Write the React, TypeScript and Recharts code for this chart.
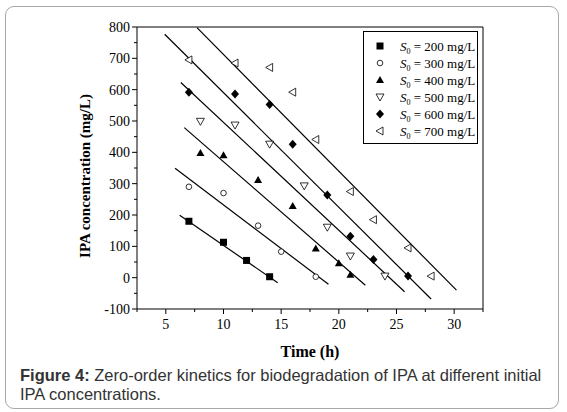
import React from "react";
import { ScatterChart, Scatter, XAxis, YAxis, ReferenceLine, Legend } from "recharts";

// Measured points: time (h) and IPA concentration (mg/L), one pair of arrays per initial concentration
const time200 = [7, 10, 12, 14];
const conc200 = [180, 113, 55, 3];
const time300 = [7, 10, 13, 15, 18];
const conc300 = [290, 270, 166, 83, 3];
const time400 = [8, 10, 13, 16, 18, 20, 21];
const conc400 = [398, 391, 312, 229, 93, 46, 9];
const time500 = [8, 11, 14, 17, 19, 21, 24];
const conc500 = [499, 487, 426, 293, 161, 69, 5];
const time600 = [7, 11, 14, 16, 19, 21, 23, 26];
const conc600 = [592, 586, 553, 426, 264, 132, 58, 5];
const time700 = [7, 11, 14, 16, 18, 21, 23, 26, 28];
const conc700 = [695, 685, 671, 592, 441, 275, 185, 95, 5];

const fitTime200 = [6.2, 14.7];
const fitConc200 = [199, -16];
const fitTime300 = [5.8, 19.1];
const fitConc300 = [349, -21];
const fitTime400 = [6.6, 22.3];
const fitConc400 = [479, -24];
const fitTime500 = [6.3, 25.7];
const fitConc500 = [623, -45];
const fitTime600 = [4.9, 28.0];
const fitConc600 = [777, -68];
const fitTime700 = [7.7, 30.2];
const fitConc700 = [798, -40];

const seriesLabels = ["200", "300", "400", "500", "600", "700"];
const markerKinds = ["square", "circle", "up", "down", "diamond", "left"];

const xTicks = [2.5, 5, 7.5, 10, 12.5, 15, 17.5, 20, 22.5, 25, 27.5, 30, 32.5];
const yTicks = [-100, -50, 0, 50, 100, 150, 200, 250, 300, 350, 400, 450, 500, 550, 600, 650, 700, 750, 800];

const toPoints = (xs: number[], ys: number[]) => xs.map((x, i) => ({ x, y: ys[i] }));

const measured = [
  toPoints(time200, conc200),
  toPoints(time300, conc300),
  toPoints(time400, conc400),
  toPoints(time500, conc500),
  toPoints(time600, conc600),
  toPoints(time700, conc700),
];
const fits = [
  toPoints(fitTime200, fitConc200),
  toPoints(fitTime300, fitConc300),
  toPoints(fitTime400, fitConc400),
  toPoints(fitTime500, fitConc500),
  toPoints(fitTime600, fitConc600),
  toPoints(fitTime700, fitConc700),
];

const serif = "'Liberation Serif', 'Times New Roman', serif";

function Marker({ kind, cx, cy }: { kind: string; cx: number; cy: number }) {
  const s = { stroke: "#000", strokeWidth: 0.8 };
  switch (kind) {
    case "square":
      return <rect x={cx - 3.5} y={cy - 3.5} width={7} height={7} fill="#000" />;
    case "circle":
      return <circle cx={cx} cy={cy} r={2.8} fill="#fff" {...s} />;
    case "up":
      return <polygon points={`${cx},${cy - 4} ${cx + 4},${cy + 3} ${cx - 4},${cy + 3}`} fill="#000" />;
    case "down":
      return <polygon points={`${cx - 4},${cy - 3} ${cx + 4},${cy - 3} ${cx},${cy + 4}`} fill="#fff" {...s} />;
    case "diamond":
      return <polygon points={`${cx},${cy - 4.5} ${cx + 4},${cy} ${cx},${cy + 4.5} ${cx - 4},${cy}`} fill="#000" />;
    default:
      return <polygon points={`${cx - 4},${cy} ${cx + 3},${cy - 4} ${cx + 3},${cy + 4}`} fill="#fff" {...s} />;
  }
}

function XTick(props: any) {
  const { x, y, payload } = props;
  const major = payload.value % 5 === 0;
  return (
    <g>
      <line x1={x} y1={y} x2={x} y2={y + (major ? 5 : 3)} stroke="#000" />
      {major && (
        <text x={x} y={y + 20} textAnchor="middle" fontFamily={serif} fontSize={14} fill="#000">
          {payload.value}
        </text>
      )}
    </g>
  );
}

function YTick(props: any) {
  const { x, y, payload } = props;
  const major = payload.value % 100 === 0;
  return (
    <g>
      <line x1={x} y1={y} x2={x - (major ? 5 : 3)} y2={y} stroke="#000" />
      {major && (
        <text x={x - 7} y={y + 5} textAnchor="end" fontFamily={serif} fontSize={14} fill="#000">
          {payload.value}
        </text>
      )}
    </g>
  );
}

function LegendBox() {
  return (
    <div style={{ width: 113, height: 111, border: "1px solid #000", background: "#fff" }}>
      <svg width={113} height={111}>
        {seriesLabels.map((lab, i) => {
          const cy = 14 + i * 17;
          return (
            <g key={lab}>
              <Marker kind={markerKinds[i]} cx={16} cy={cy} />
              <text x={36} y={cy + 5} fontFamily={serif} fontSize={13} fill="#000">
                <tspan fontStyle="italic">S</tspan>
                <tspan dy={3} fontSize={8}>0</tspan>
                <tspan dy={-3}>{` = ${lab} mg/L`}</tspan>
              </text>
            </g>
          );
        })}
      </svg>
    </div>
  );
}

export default function App() {
  return (
    <div style={{ position: "absolute", left: 0, top: 0, width: 567, height: 412, background: "#fff" }}>
      <div
        style={{
          position: "absolute",
          left: 5,
          top: 6,
          width: 552,
          height: 401,
          border: "1px solid #a8a8a8",
          borderRadius: 9,
        }}
      />
      <div style={{ position: "absolute", left: 0, top: 0 }}>
        <ScatterChart width={567} height={362} margin={{ top: 27, right: 84, left: 0, bottom: 0 }}>
          <XAxis
            type="number"
            dataKey="x"
            domain={[2.5, 32.5]}
            ticks={xTicks}
            interval={0}
            tickSize={0}
            tickMargin={0}
            tickLine={false}
            tick={<XTick />}
            height={53}
            stroke="#000"
            label={{
              value: "Time (h)",
              position: "insideBottom",
              offset: 5,
              fontFamily: serif,
              fontSize: 16,
              fontWeight: "bold",
              fill: "#000",
            }}
          />
          <YAxis
            type="number"
            dataKey="y"
            domain={[-100, 800]}
            ticks={yTicks}
            interval={0}
            tickSize={0}
            tickMargin={0}
            tickLine={false}
            tick={<YTick />}
            width={137}
            stroke="#000"
            label={{
              value: "IPA concentration (mg/L)",
              angle: -90,
              position: "center",
              dx: 16,
              dy: 8,
              fontFamily: serif,
              fontSize: 15,
              fontWeight: "bold",
              fill: "#000",
            }}
          />
          <ReferenceLine y={800} stroke="#000" />
          <ReferenceLine x={32.5} stroke="#000" />
          {fits.map((pts, i) => (
            <Scatter
              key={"fit" + i}
              data={pts}
              line={{ stroke: "#000", strokeWidth: 1.2 }}
              shape={() => <g />}
              legendType="none"
              isAnimationActive={false}
            />
          ))}
          {measured.map((pts, i) => (
            <Scatter
              key={"pts" + i}
              data={pts}
              shape={(p: any) => <Marker kind={markerKinds[i]} cx={p.cx} cy={p.cy} />}
              isAnimationActive={false}
            />
          ))}
          <Legend
            layout="horizontal"
            verticalAlign="middle"
            align="center"
            content={() => <LegendBox />}
            wrapperStyle={{ position: "absolute", left: 363, top: 31, width: 115, height: 113 }}
          />
        </ScatterChart>
      </div>
      <div
        style={{
          position: "absolute",
          left: 20,
          top: 366,
          width: 534,
          fontFamily: "'Liberation Sans', Arial, sans-serif",
          fontSize: 16.5,
          lineHeight: "19px",
          color: "#333",
        }}
      >
        <b>Figure 4:</b> Zero-order kinetics for biodegradation of IPA at different initial IPA concentrations.
      </div>
    </div>
  );
}
